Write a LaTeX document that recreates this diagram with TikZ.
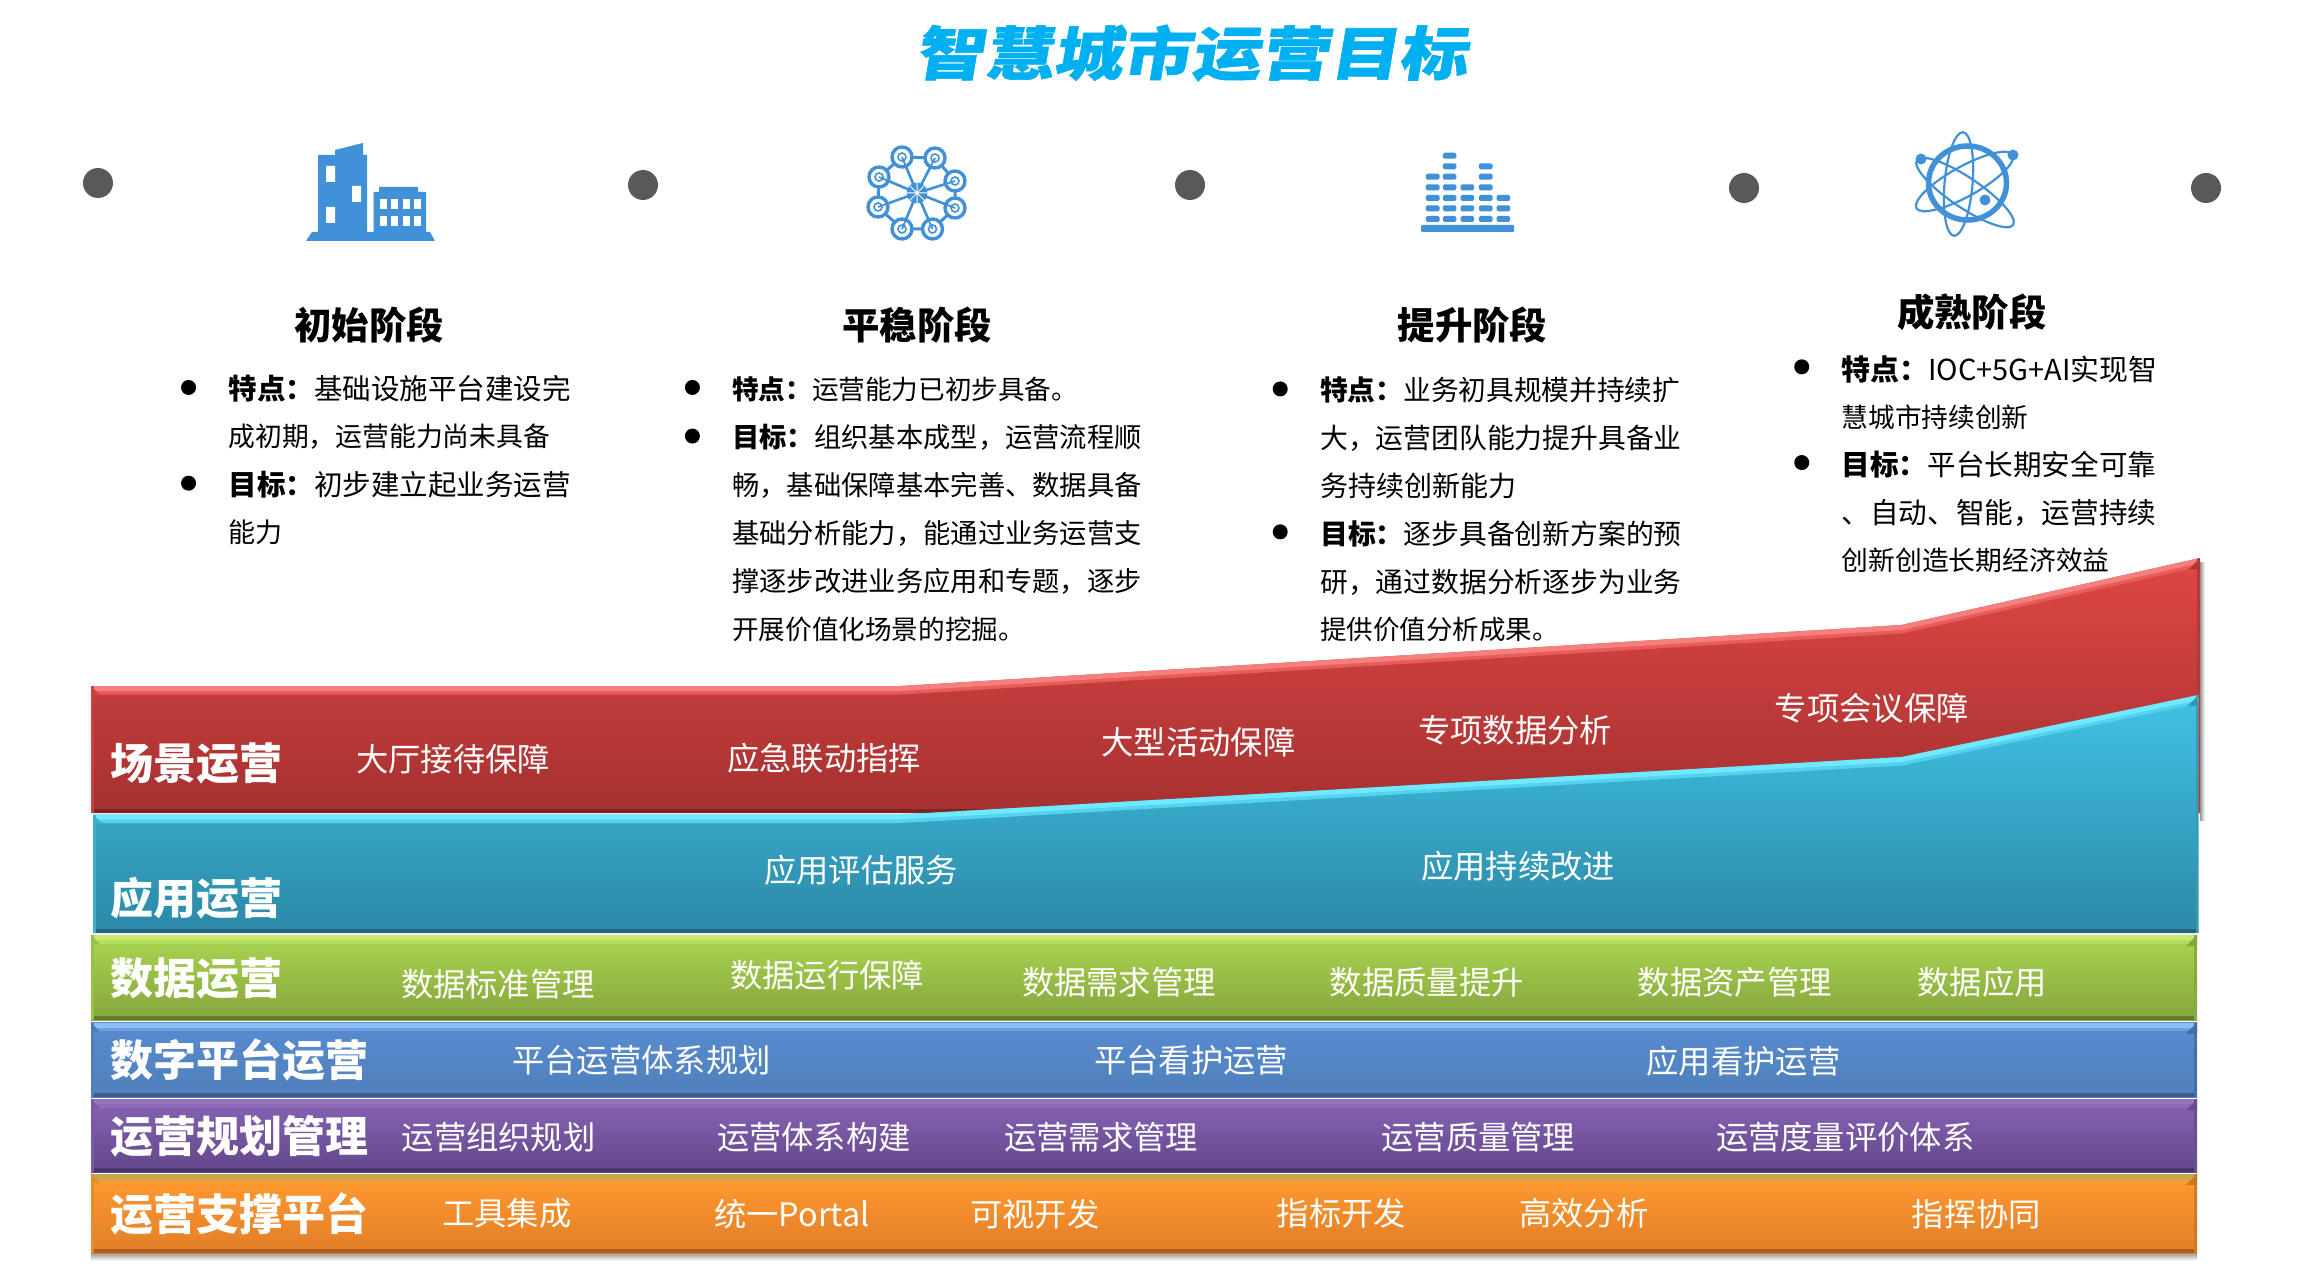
\documentclass[tikz,border=0pt]{standalone}
\usepackage{fontspec}
\usetikzlibrary{calc}
\setmainfont{Noto Sans CJK SC}
\newfontfamily\titlefont[FakeSlant=0.17,FakeStretch=1.19,FakeBold=1]{Noto Sans CJK SC Black}
\definecolor{iconblue}{HTML}{4091D8}
\definecolor{dotgray}{HTML}{595959}
\definecolor{titleblue}{HTML}{00B0F0}
\definecolor{ra}{HTML}{DF4745}\definecolor{rb}{HTML}{A53130}\definecolor{rc}{HTML}{F57F7D}
\definecolor{ta}{HTML}{41C3E5}\definecolor{tb}{HTML}{2C88A6}\definecolor{tc}{HTML}{70E8FF}
\definecolor{ga}{HTML}{A9D651}\definecolor{gb}{HTML}{86A43C}\definecolor{gc}{HTML}{C9EA70}
\definecolor{ba}{HTML}{588CD0}\definecolor{bb}{HTML}{4F7FBB}\definecolor{bc}{HTML}{8EBEF8}
\definecolor{pa}{HTML}{8864B5}\definecolor{pb}{HTML}{62468A}\definecolor{pc}{HTML}{9575BE}
\definecolor{oa}{HTML}{FF9A30}\definecolor{ob}{HTML}{E27E28}\definecolor{oc}{HTML}{C9A64C}
\tikzset{
  body/.style={anchor=west,inner sep=0pt,font=\fontsize{#1}{30}\selectfont,text=black},
  bul/.style={circle,fill=black,inner sep=0pt,minimum size=15pt},
  stagehead/.style={inner sep=0pt,font=\fontsize{37.4}{40}\selectfont\bfseries,text=black},
  bandhead/.style={anchor=west,inner sep=0pt,font=\fontsize{43}{44}\selectfont\bfseries,text=white},
  bandlab/.style={inner sep=0pt,font=\fontsize{32.3}{34}\selectfont,text=white},
  stagedot/.style={circle,fill=dotgray,inner sep=0pt,minimum size=30pt},
  netring/.style={circle,draw=iconblue,line width=3.4pt,fill=white,inner sep=0pt,minimum size=20pt},
  orbit/.style={draw=iconblue,line width=2.2pt},
  cell/.style={fill=iconblue,rounded corners=1.5pt},
}
% #1 top polyline, #2 L, #3 TL, #4 R, #5 TR, #6 B, #7 c1, #8 c2, #9 hi
\newcommand{\bandshape}[9]{%
  \shade[top color=#7,bottom color=#8] #1 -- (#4,#6) -- (#2,#6) -- cycle;
  \begin{scope}
    \clip #1 -- (#4,#6) -- (#2,#6) -- cycle;
    \draw[#9!40!#7,line width=4pt,shift={(0,6.5)}] #1;
    \draw[#9,line width=5pt,shift={(0,2.5)}] #1;
    \fill[#8!75!black] (#2,#6-4) rectangle (#4,#6);
    \fill[#7!80!black] (#4-3,#5) rectangle (#4,#6);
    \fill[#7!90!black] (#2,#3) rectangle (#2+3,#6);
    \fill[#7!78!black] (#4,#5) -- (#4-11,#5+11) -- (#4,#5+11) -- cycle;
    \fill[#7!90!black] (#2,#3) -- (#2+9,#3+9) -- (#2,#3+9) -- cycle;
  \end{scope}
}
\begin{document}
\begin{tikzpicture}[x=1pt,y=-1pt]
\useasboundingbox (0,0) rectangle (2310,1273);
\fill[white] (0,0) rectangle (2310,1273);

% title
\node[inner sep=0pt,text=titleblue,font=\fontsize{58}{60}\selectfont\titlefont] (title) at (1191,53) {智慧城市运营目标};

% dots
\node[stagedot] (d1) at (98,183) {};
\node[stagedot] (d2) at (643,185) {};
\node[stagedot] (d3) at (1190,185) {};
\node[stagedot] (d4) at (1744,188) {};
\node[stagedot] (d5) at (2206,188) {};

% building icon
\fill[iconblue] (306,241) -- (312,232) -- (318,232) -- (318,155) -- (335,155) -- (335,150) -- (363,143) -- (363,155) -- (367,155) -- (367,232) -- (373.5,232) -- (373.5,192) -- (379,192) -- (379,187) -- (418,187) -- (418,192) -- (426,192) -- (426,232) -- (430,232) -- (435,241) -- cycle;
\fill[white] (326,166) rectangle (335,182) (352,186) rectangle (361,202) (326,207) rectangle (335,223);
\foreach \wx in {380,391,403,414} {
  \fill[white] (\wx,199) rectangle +(7,10);
  \fill[white] (\wx,216) rectangle +(7,10);
}

% network icon
\coordinate (netmid) at (917,193);
\draw[iconblue,line width=3pt] (902,157) -- (935,158) -- (955,181) -- (955,208) -- (932.5,229) -- (902,229) -- (878,207) -- (879,177) -- cycle;
\foreach \nx/\ny in {902/157,935/158,955/181,955/208,932.5/229,902/229,878/207,879/177} {
  \draw[iconblue,line width=2.6pt] (netmid) -- (\nx,\ny);
}
\foreach \nx/\ny/\nn in {902/157/a,935/158/b,955/181/c,955/208/e,932.5/229/f,902/229/g,878/207/h,879/177/i} {
  \node[netring] (ring\nn) at (\nx,\ny) {};
  \draw[iconblue,line width=1.8pt] (ring\nn.center) -- ($(ring\nn.center)!0.26!(netmid)$);
  \draw[iconblue,line width=1.6pt] (ring\nn.center) circle (4);
}
\node[circle,fill=iconblue,inner sep=0pt,minimum size=21pt] (nethub) at (netmid) {};
\draw[white,line width=1pt] (nethub.north) -- (nethub.south) (nethub.west) -- (nethub.east) (nethub.north west) -- (nethub.south east) (nethub.north east) -- (nethub.south west);

% bars icon
\foreach \bx/\by in {1449.6/155.7,1449.6/166.3,1485.7/166.3,1432.7/176.7,1449.6/176.7,1485.7/176.7,1432.7/187.3,1449.6/187.3,1467.3/187.3,1485.7/187.3,1432.7/198,1449.6/198,1467.3/198,1485.7/198,1503.4/198,1432.7/208.3,1449.6/208.3,1467.3/208.3,1485.7/208.3,1503.4/208.3,1432.7/219,1449.6/219,1467.3/219,1485.7/219,1503.4/219} {
  \fill[cell] (\bx-6.8,\by-3) rectangle (\bx+6.8,\by+3);
}
\fill[iconblue,rounded corners=1pt] (1421,225) rectangle (1514,232);

% atom icon
\draw[iconblue,line width=5.5pt] (1967.5,183) circle [x radius=39,y radius=37];
\draw[orbit] (1958.5,184) circle [x radius=52,y radius=14,rotate=85];
\draw[orbit] (1965,192.5) circle [x radius=58,y radius=15,rotate=146];
\draw[orbit] (1964.5,181.5) circle [x radius=55,y radius=15,rotate=29];
\fill[iconblue] (1921,159) circle (5.5) (2013,155) circle (5.5) (1985,200) circle (5.5);

% stage headings
\begin{scope}[x=1.4732pt,y=-1.4732pt]
\node[stagehead] (s1) at (250.5,221) {初始阶段};
\node[stagehead] (s2) at (622.5,221) {平稳阶段};
\node[stagehead] (s3) at (999.5,221) {提升阶段};
\node[stagehead] (s4) at (1338.5,212) {成熟阶段};

\node[bul] (b11) at (128,263) {};
\node[bul] (b12) at (128,328) {};
\node[body=28.5] (t11) at (155,264) {\textbf{特点：}基础设施平台建设完};
\node[body=26.8] (t12) at (155,296.5) {成初期，运营能力尚未具备};
\node[body=28.5] (t13) at (155,329) {\textbf{目标：}初步建立起业务运营};
\node[body=27] (t14) at (155,361.5) {能力};

\node[bul] (b21) at (470,263) {};
\node[bul] (b22) at (470,296) {};
\node[body=26.6] (t21) at (497,264) {\textbf{特点：}运营能力已初步具备。};
\node[body=27.3] (t22) at (497,297) {\textbf{目标：}组织基本成型，运营流程顺};
\node[body=27.3] (t23) at (497,329.5) {畅，基础保障基本完善、数据具备};
\node[body=27.3] (t24) at (497,362) {基础分析能力，能通过业务运营支};
\node[body=27.3] (t25) at (497,394.5) {撑逐步改进业务应用和专题，逐步};
\node[body=26.6] (t26) at (497,427) {开展价值化场景的挖掘。};

\node[bul] (b31) at (869,264) {};
\node[bul] (b32) at (869,361) {};
\node[body=27.7] (t31) at (896,265) {\textbf{特点：}业务初具规模并持续扩};
\node[body=27.8] (t32) at (896,297.5) {大，运营团队能力提升具备业};
\node[body=28] (t33) at (896,330) {务持续创新能力};
\node[body=27.8] (t34) at (896,362.5) {\textbf{目标：}逐步具备创新方案的预};
\node[body=27.8] (t35) at (896,395) {研，通过数据分析逐步为业务};
\node[body=26.5] (t36) at (896,427.5) {提供价值分析成果。};

\node[bul] (b41) at (1223,249) {};
\node[bul] (b42) at (1223,314) {};
\node[body=28.9] (t41) at (1250,250.5) {\textbf{特点：}IOC+5G+AI实现智};
\node[body=26.7] (t42) at (1250,283) {慧城市持续创新};
\node[body=28.6] (t43) at (1250,315.5) {\textbf{目标：}平台长期安全可靠};
\node[body=28.6] (t44) at (1250,348) {、自动、智能，运营持续};
\node[body=26.8] (t45) at (1250,380.5) {创新创造长期经济效益};
\end{scope}

% shadows
\shade[top color=black!40,bottom color=white] (91,1253) rectangle (2197,1261);
\shade[left color=black!40,right color=white] (2200,562) rectangle (2205,820);

% bands
\bandshape{(91,686) -- (901,686) -- (1901.5,625) -- (2200,558)}{91}{686}{2200}{558}{813}{ra}{rb}{rc}
\bandshape{(93,814.5) -- (901,814.5) -- (1901.5,757) -- (2198.5,695)}{93}{814.5}{2198.5}{695}{933}{ta}{tb}{tc}
\bandshape{(91,935) -- (2197,935)}{91}{935}{2197}{935}{1020}{ga}{gb}{gc}
\bandshape{(91,1022.5) -- (2197,1022.5)}{91}{1022.5}{2197}{1022.5}{1097}{ba}{bb}{bc}
\bandshape{(91,1099) -- (2197,1099)}{91}{1099}{2197}{1099}{1172}{pa}{pb}{pc}
\bandshape{(91,1174) -- (2197,1174)}{91}{1174}{2197}{1174}{1253}{oa}{ob}{oc}

% band text
\begin{scope}[x=1.4732pt,y=-1.4732pt]
\node[bandhead] (h1) at (75,518) {场景运营};
\node[bandhead] (h2) at (75,610) {应用运营};
\node[bandhead] (h3) at (75,664.5) {数据运营};
\node[bandhead] (h4) at (75,719.5) {数字平台运营};
\node[bandhead] (h5) at (75,771) {运营规划管理};
\node[bandhead] (h6) at (75,824) {运营支撑平台};

\node[bandlab] (l11) at (307.5,515) {大厅接待保障};
\node[bandlab] (l12) at (559.5,515) {应急联动指挥};
\node[bandlab] (l13) at (813.5,504) {大型活动保障};
\node[bandlab] (l14) at (1028.5,496) {专项数据分析};
\node[bandlab] (l15) at (1270.5,481) {专项会议保障};
\node[bandlab] (l21) at (584.5,591) {应用评估服务};
\node[bandlab] (l22) at (1030.5,588) {应用持续改进};
\node[bandlab] (l31) at (338,668) {数据标准管理};
\node[bandlab] (l32) at (561.5,662) {数据运行保障};
\node[bandlab] (l33) at (759.5,667) {数据需求管理};
\node[bandlab] (l34) at (968.5,667) {数据质量提升};
\node[bandlab] (l35) at (1177.5,667) {数据资产管理};
\node[bandlab] (l36) at (1345.5,667) {数据应用};
\node[bandlab] (l41) at (435.5,720) {平台运营体系规划};
\node[bandlab] (l42) at (808.5,720) {平台看护运营};
\node[bandlab] (l43) at (1183.5,720) {应用看护运营};
\node[bandlab] (l51) at (338.5,772) {运营组织规划};
\node[bandlab] (l52) at (552.5,772) {运营体系构建};
\node[bandlab] (l53) at (747.5,772) {运营需求管理};
\node[bandlab] (l54) at (1003.5,772) {运营质量管理};
\node[bandlab] (l55) at (1252.5,772) {运营度量评价体系};
\node[bandlab] (l61) at (344,823.5) {工具集成};
\node[bandlab] (l62) at (537.5,824) {统一Portal};
\node[bandlab] (l63) at (702.5,824) {可视开发};
\node[bandlab] (l64) at (910.5,823.5) {指标开发};
\node[bandlab] (l65) at (1075,823.5) {高效分析};
\node[bandlab] (l66) at (1341.5,824) {指挥协同};
\end{scope}
\end{tikzpicture}
\end{document}
